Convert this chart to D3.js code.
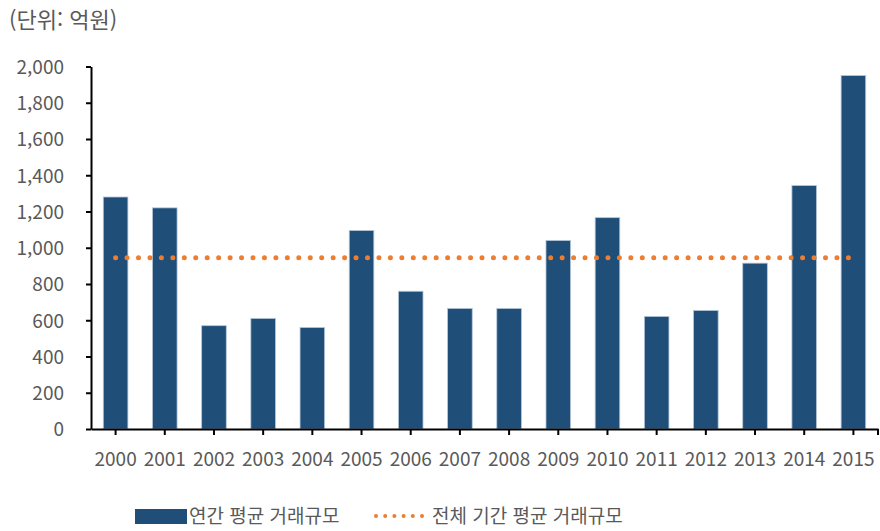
<!DOCTYPE html>
<html lang="ko">
<head>
<meta charset="utf-8"/>
<title>연간 평균 거래규모</title>
<script src="https://d3js.org/d3.v7.min.js"></script>
<style>
  body { margin: 0; background: #fff; }
  text { font-family: "Noto Sans CJK KR", "Noto Sans", sans-serif; fill: #595959; }
  .axis .domain, .axis line { stroke: #000; stroke-width: 2px; }
  .axis text { font-size: 19px; fill: #595959; }
</style>
</head>
<body>
<svg id="chart" width="880" height="531"></svg>
<script>
// data
var years = ["2000","2001","2002","2003","2004","2005","2006","2007",
             "2008","2009","2010","2011","2012","2013","2014","2015"];
var annualAvg = [1280, 1220, 570, 610, 560, 1095, 760, 665,
                 665, 1040, 1166, 621, 654, 915, 1343, 1950];
var periodAvg = 945;
var yTicks = [0, 200, 400, 600, 800, 1000, 1200, 1400, 1600, 1800, 2000];
var unitLabel = "(단위: 억원)";
var legendLabels = ["연간 평균 거래규모", "전체 기간 평균 거래규모"];

var svg = d3.select("#chart");
var barColor = "#1f4e79",
    lineColor = "#ed7d31";

// scales
var x = d3.scaleBand()
    .domain(years)
    .range([91, 878])
    .paddingInner(0.5)
    .paddingOuter(0.25);
var y = d3.scaleLinear()
    .domain([0, 2000])
    .range([429, 66.5]);

// unit label
svg.append("text")
    .attr("x", 9)
    .attr("y", 28)
    .attr("font-size", "22px")
    .text(unitLabel);

// bars
svg.append("g")
  .selectAll("rect")
  .data(annualAvg)
  .enter().append("rect")
    .attr("x", function(d, i) { return x(years[i]); })
    .attr("y", function(d) { return y(d); })
    .attr("width", x.bandwidth())
    .attr("height", function(d) { return y(0) - y(d); })
    .attr("fill", barColor)
    .attr("stroke", "#b4c6d8")
    .attr("stroke-width", 0.8);

// average line (dotted)
svg.append("line")
    .attr("x1", x(years[0]) + x.bandwidth() / 2)
    .attr("x2", x(years[years.length - 1]) + x.bandwidth() / 2)
    .attr("y1", y(periodAvg))
    .attr("y2", y(periodAvg))
    .attr("stroke", lineColor)
    .attr("stroke-width", 5)
    .attr("stroke-linecap", "round")
    .attr("stroke-dasharray", "0,11.45");

// y axis
var yAxis = svg.append("g")
    .attr("class", "axis")
    .attr("transform", "translate(91,0)")
    .call(d3.axisLeft(y).tickValues(yTicks).tickSize(5).tickSizeOuter(0)
      .tickFormat(d3.format(",")));
yAxis.selectAll("text").attr("x", -27).attr("dy", "0.36em");

// x axis
var xAxis = svg.append("g")
    .attr("class", "axis")
    .attr("transform", "translate(0,429)")
    .call(d3.axisBottom(x).tickSize(6).tickSizeOuter(0));
xAxis.selectAll("text").attr("y", 22).attr("dy", "0.8em");
xAxis.append("line")
    .attr("x1", 878).attr("x2", 878)
    .attr("y1", 0).attr("y2", 6);

// legend
var legend = svg.append("g");
legend.append("rect")
    .attr("x", 135).attr("y", 509)
    .attr("width", 52).attr("height", 15)
    .attr("fill", barColor);
legend.append("text")
    .attr("x", 189).attr("y", 523)
    .attr("font-size", "19px")
    .text(legendLabels[0]);
legend.append("line")
    .attr("x1", 376).attr("x2", 422)
    .attr("y1", 516).attr("y2", 516)
    .attr("stroke", lineColor)
    .attr("stroke-width", 4)
    .attr("stroke-linecap", "round")
    .attr("stroke-dasharray", "0,9.2");
legend.append("text")
    .attr("x", 432).attr("y", 523)
    .attr("font-size", "19px")
    .text(legendLabels[1]);
</script>
</body>
</html>
